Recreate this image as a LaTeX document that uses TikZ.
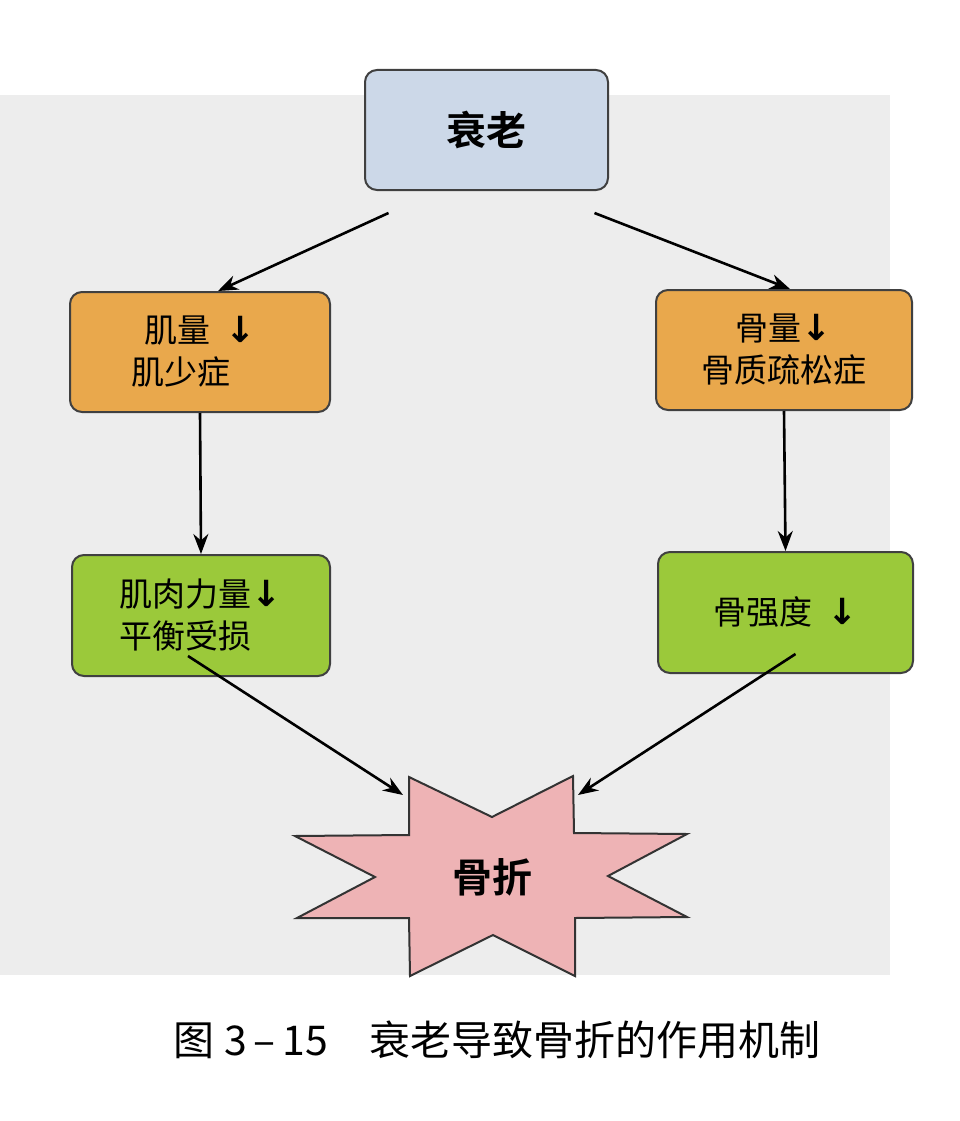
\documentclass[tikz,border=0pt]{standalone}
\usepackage{fontspec}
\setmainfont{Noto Sans CJK SC}
\newfontfamily\cjkb{Noto Sans CJK SC}[BoldFont={* Bold}]
\newfontfamily\arr{DejaVu Sans}
\usetikzlibrary{arrows.meta}
\definecolor{bgc}{HTML}{EDEDED}
\definecolor{bluef}{HTML}{CCD8E8}
\definecolor{orangef}{HTML}{E9A84C}
\definecolor{greenf}{HTML}{9BC93A}
\definecolor{pinkf}{HTML}{EEB3B5}
\tikzset{
 box/.style={draw=black!75, line width=2pt, rounded corners=12pt, align=center, font=\fontsize{33}{42}\selectfont, inner sep=0pt},
 conn/.style={line width=2.6pt, -{Stealth[length=20pt,width=15pt]}}
}
\newcommand{\dn}{{\arr\bfseries\fontsize{36}{40}\selectfont ↓}}
\begin{document}
\begin{tikzpicture}[x=1pt,y=-1pt]
\useasboundingbox (0,0) rectangle (960,1121);
\fill[white] (0,0) rectangle (960,1121);
\fill[bgc] (0,95) rectangle (890,975);
\node[box, fill=bluef, minimum width=243pt, minimum height=120pt, font=\cjkb\bfseries\fontsize{40}{44}\selectfont] (a) at (486.5,130) {衰老};
\node[box, fill=orangef, minimum width=260pt, minimum height=120pt] (b) at (200,352) {肌量 \ \dn\\肌少症\phantom{\ \dn}};
\node[box, fill=orangef, minimum width=256pt, minimum height=120pt] (c) at (784,350) {骨量\dn\\骨质疏松症};
\node[box, fill=greenf, minimum width=258pt, minimum height=121pt] (d) at (201,615.5) {肌肉力量\dn\\平衡受损\phantom{\dn}};
\node[box, fill=greenf, minimum width=255pt, minimum height=121pt] (e) at (785.5,612.5) {骨强度 \ \dn};
\fill[pinkf, draw=black!80, line width=2pt] (409,777)--(492,817)--(573,776)--(574,833)--(687,834)--(608,876)--(687,917)--(575,918)--(575,976)--(493,935)--(410,976)--(409,918)--(297,918)--(375,877)--(295,836)--(409,835)--cycle;
\node[font=\cjkb\bfseries\fontsize{40}{44}\selectfont] (f) at (492,877) {骨折};
\coordinate (f1) at (403,795);
\coordinate (f2) at (578,795);
\draw[conn] ([xshift=-98pt]a.south) ++(0,22) -- ([xshift=18pt]b.north);
\draw[conn] ([xshift=108pt]a.south) ++(0,22) -- ([xshift=6pt]c.north);
\draw[conn] (b.south) -- (d.north);
\draw[conn] (c.south) -- (e.north);
\draw[conn] ([xshift=-13pt,yshift=21pt]d.south) -- (f1);
\draw[conn] ([xshift=10pt,yshift=20pt]e.south) -- (f2);
\node[font=\fontsize{41}{44}\selectfont] (cap) at (497,1040) {图 3\,–\,15\quad 衰老导致骨折的作用机制};
\end{tikzpicture}
\end{document}
